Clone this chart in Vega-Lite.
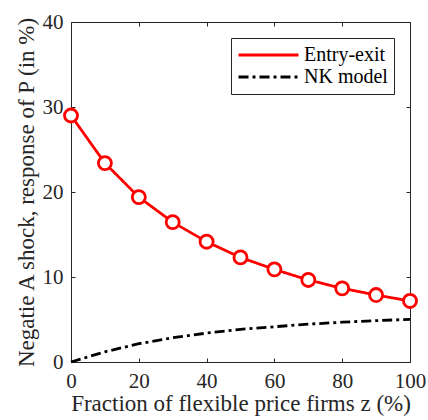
{
  "$schema": "https://vega.github.io/schema/vega-lite/v6.json",
  "autosize": "none",
  "width": 339,
  "height": 340,
  "padding": {"left": 71, "top": 22, "right": 18, "bottom": 58},
  "background": "white",
  "config": {
    "font": "'Liberation Serif', 'Times New Roman', serif",
    "view": {"stroke": "#262626", "strokeWidth": 1},
    "axis": {
      "grid": false,
      "domainColor": "#262626",
      "tickColor": "#262626",
      "labelColor": "#262626",
      "titleColor": "#262626",
      "labelFont": "'Liberation Serif', 'Times New Roman', serif",
      "titleFont": "'Liberation Serif', 'Times New Roman', serif",
      "labelFontSize": 21,
      "titleFontSize": 23,
      "titleFontWeight": "normal",
      "tickSize": -4,
      "labelFlush": false
    },
    "legend": {
      "labelFont": "'Liberation Serif', 'Times New Roman', serif",
      "labelFontSize": 20
    }
  },
  "data": {
    "values": [
      {"z": 0, "v": 29.0, "series": "Entry-exit"},
      {"z": 10, "v": 23.4, "series": "Entry-exit"},
      {"z": 20, "v": 19.4, "series": "Entry-exit"},
      {"z": 30, "v": 16.45, "series": "Entry-exit"},
      {"z": 40, "v": 14.15, "series": "Entry-exit"},
      {"z": 50, "v": 12.3, "series": "Entry-exit"},
      {"z": 60, "v": 10.9, "series": "Entry-exit"},
      {"z": 70, "v": 9.65, "series": "Entry-exit"},
      {"z": 80, "v": 8.67, "series": "Entry-exit"},
      {"z": 90, "v": 7.88, "series": "Entry-exit"},
      {"z": 100, "v": 7.18, "series": "Entry-exit"},
      {"z": 0, "v": 0.0, "series": "NK model"},
      {"z": 10, "v": 1.2, "series": "NK model"},
      {"z": 20, "v": 2.15, "series": "NK model"},
      {"z": 30, "v": 2.85, "series": "NK model"},
      {"z": 40, "v": 3.4, "series": "NK model"},
      {"z": 50, "v": 3.85, "series": "NK model"},
      {"z": 60, "v": 4.15, "series": "NK model"},
      {"z": 70, "v": 4.45, "series": "NK model"},
      {"z": 80, "v": 4.68, "series": "NK model"},
      {"z": 90, "v": 4.87, "series": "NK model"},
      {"z": 100, "v": 5.02, "series": "NK model"}
    ]
  },
  "layer": [
    {
      "mark": {"type": "line", "strokeWidth": 2.8},
      "encoding": {
        "x": {"field": "z", "type": "quantitative", "scale": {"domain": [0, 100], "nice": false},
              "axis": {"values": [0, 20, 40, 60, 80, 100], "title": "Fraction of flexible price firms z (%)", "labelPadding": 12, "titlePadding": 1, "domain": false}},
        "y": {"field": "v", "type": "quantitative", "scale": {"domain": [0, 40], "nice": false},
              "axis": {"values": [0, 10, 20, 30, 40], "title": "Negatie A shock, response of P (in %)", "labelPadding": 12, "titlePadding": 4, "domain": false}},
        "color": {"field": "series", "type": "nominal",
                  "scale": {"domain": ["Entry-exit", "NK model"], "range": ["#ff0000", "#000000"]},
                  "legend": {"title": null, "orient": "top-right", "offset": 16, "symbolType": "stroke", "symbolSize": 3600, "symbolStrokeWidth": 2.8, "clipHeight": 22, "labelFont": "'Liberation Serif', 'Times New Roman', serif", "labelFontSize": 20, "labelColor": "#000000", "fillColor": "white", "strokeColor": "#262626", "padding": 6, "rowPadding": 0, "labelOffset": 4}},
        "strokeDash": {"field": "series", "type": "nominal",
                       "scale": {"domain": ["Entry-exit", "NK model"], "range": [[1, 0], [10, 4, 3, 4]]},
                       "legend": {"title": null, "orient": "top-right", "offset": 16, "symbolType": "stroke", "symbolSize": 3600, "symbolStrokeWidth": 2.8, "clipHeight": 22, "labelFont": "'Liberation Serif', 'Times New Roman', serif", "labelFontSize": 20, "labelColor": "#000000", "fillColor": "white", "strokeColor": "#262626", "padding": 6, "rowPadding": 0, "labelOffset": 4}}
      }
    },
    {
      "transform": [{"filter": "datum.series === 'Entry-exit'"}],
      "mark": {"type": "point", "shape": "circle", "filled": true, "fill": "white", "stroke": "#ff0000", "strokeWidth": 2.8, "size": 170, "opacity": 1},
      "encoding": {
        "x": {"field": "z", "type": "quantitative", "axis": {"orient": "top", "values": [0, 20, 40, 60, 80, 100], "labels": false, "title": null, "domain": false}},
        "y": {"field": "v", "type": "quantitative", "axis": {"orient": "right", "values": [0, 10, 20, 30, 40], "labels": false, "title": null, "domain": false}}
      }
    }
  ],
  "resolve": {"axis": {"x": "independent", "y": "independent"}}
}
